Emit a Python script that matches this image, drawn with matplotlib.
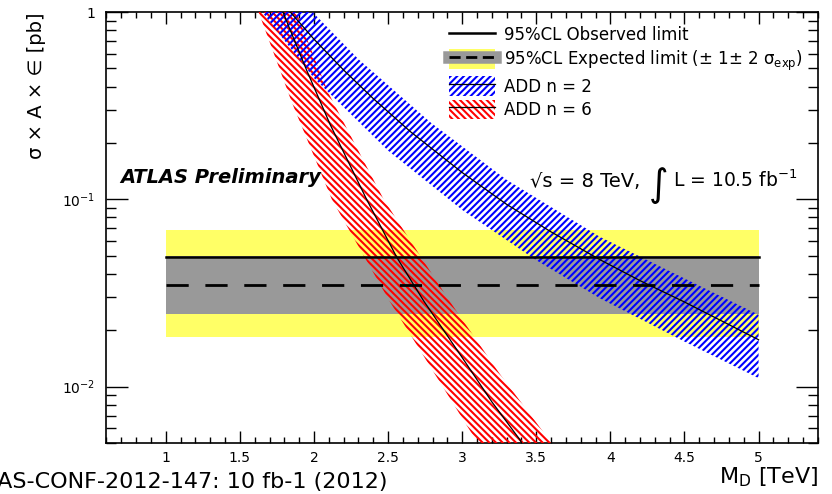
import numpy as np
import matplotlib
matplotlib.use("Agg")
import matplotlib.pyplot as plt
from matplotlib.lines import Line2D
from matplotlib.patches import Patch
from matplotlib.ticker import MultipleLocator, LogLocator, NullFormatter

# limits (pb), flat in M_D
md_lim = [1.0, 5.0]
obs_limit = [0.049, 0.049]
exp_limit = [0.0348, 0.0348]
exp_1s_lo = [0.0244, 0.0244]
exp_1s_hi = [0.050, 0.050]
exp_2s_lo = [0.0184, 0.0184]
exp_2s_hi = [0.0685, 0.0685]

# ADD n = 2 signal
md_n2 = [1.84, 2.0, 2.2, 2.4, 2.65, 2.79, 3.0, 3.30, 3.6, 3.93, 4.2, 4.5, 5.0]
xs_n2 = [1.0, 0.716, 0.49, 0.345, 0.230, 0.188, 0.139, 0.094, 0.067, 0.0476, 0.0368, 0.0283, 0.0178]
md_n2_hi = [1.99, 2.3, 2.79, 3.30, 3.93, 4.5, 5.0]
xs_n2_hi = [1.0, 0.56, 0.256, 0.127, 0.063, 0.0378, 0.0242]
md_n2_lo = [1.65, 2.0, 2.5, 3.0, 3.5, 3.93, 4.5, 5.0]
xs_n2_lo = [1.0, 0.444, 0.182, 0.0878, 0.0473, 0.0296, 0.0174, 0.0111]

# ADD n = 6 signal
md_n6 = [1.79, 1.95, 2.11, 2.355, 2.56, 2.74, 3.0, 3.2, 3.39, 3.42]
xs_n6 = [1.0, 0.49, 0.25, 0.100, 0.0488, 0.0287, 0.0143, 0.0083, 0.0052, 0.0047]
md_n6_hi = [1.88, 2.097, 2.47, 2.91, 3.25, 3.62]
xs_n6_hi = [1.0, 0.37, 0.1, 0.029, 0.0118, 0.0048]
md_n6_lo = [1.626, 1.85, 2.12, 2.504, 3.034, 3.12]
xs_n6_lo = [1.0, 0.33, 0.1, 0.0291, 0.00615, 0.0048]

xticks = [1, 1.5, 2, 2.5, 3, 3.5, 4, 4.5, 5]
xticklabels = ["1", "1.5", "2", "2.5", "3", "3.5", "4", "4.5", "5"]
yticks = [0.01, 0.1, 1]
yticklabels = ["10$^{-2}$", "10$^{-1}$", "1"]

yellow = "#ffff66"
gray = "#999999"
hatch_n2 = "/////"
hatch_n6 = "\\\\\\\\\\"

plt.rcParams["font.family"] = ["DejaVu Sans"]
plt.rcParams["mathtext.default"] = "regular"
plt.rcParams["hatch.linewidth"] = 1.5

fig = plt.figure(figsize=(8.32, 4.94), dpi=100)
ax = fig.add_axes([0.128, 0.1032, 0.855, 0.8725])

# expected bands
ax.fill_between(md_lim, exp_2s_lo, exp_2s_hi, color=yellow, lw=0, zorder=1)
ax.fill_between(md_lim, exp_1s_lo, exp_1s_hi, color=gray, lw=0, zorder=2)

# signal bands
ax.fill(md_n6_lo + md_n6_hi[::-1], xs_n6_lo + xs_n6_hi[::-1],
        facecolor="none", edgecolor="red", hatch=hatch_n6, lw=0, zorder=3)
ax.fill(md_n2_lo + md_n2_hi[::-1], xs_n2_lo + xs_n2_hi[::-1],
        facecolor="none", edgecolor="blue", hatch=hatch_n2, lw=0, zorder=3)
ax.plot(md_n2, xs_n2, color="black", lw=0.9, zorder=5)
ax.plot(md_n6, xs_n6, color="black", lw=0.9, zorder=5)

# limits
ax.plot(md_lim, obs_limit, color="black", lw=1.8, zorder=6)
ax.plot(md_lim, exp_limit, color="black", lw=2, dashes=(8, 6), zorder=6)

ax.set_yscale("log")
ax.set_xlim(0.6, 5.4)
ax.set_ylim(0.005, 1)
ax.set_xticks(xticks)
ax.set_xticklabels(xticklabels)
ax.xaxis.set_minor_locator(MultipleLocator(0.1))
ax.set_yticks(yticks)
ax.set_yticklabels(yticklabels)
ax.yaxis.set_minor_locator(LogLocator(base=10, subs=np.arange(2, 10)))
ax.yaxis.set_minor_formatter(NullFormatter())

ax.tick_params(which="both", direction="in", top=True, right=True, labelsize=10, width=1)
ax.tick_params(axis="x", which="major", length=8.5, pad=6)
ax.tick_params(axis="x", which="minor", length=4.3)
ax.tick_params(axis="y", which="major", length=15.5, pad=8)
ax.tick_params(axis="y", which="minor", length=7.5)
for s in ax.spines.values():
    s.set_linewidth(1.2)

ax.set_ylabel("σ × A × ∈ [pb]", fontsize=14, loc="top")
ax.yaxis.set_label_coords(-0.085, 1.0)
ax.set_xlabel("M$_{D}$ [TeV]", fontsize=16, loc="right")
ax.xaxis.set_label_coords(1.0, -0.053)

ax.text(0.019, 0.603, "ATLAS Preliminary", transform=ax.transAxes,
        fontsize=14, fontweight="bold", fontstyle="italic")
ax.text(0.595, 0.595, "√s = 8 TeV,", transform=ax.transAxes, fontsize=14)
ax.text(0.762, 0.573, "∫", transform=ax.transAxes, fontsize=27)
ax.text(0.797, 0.595, "L = 10.5 fb$^{-1}$", transform=ax.transAxes, fontsize=13.5)

fig.text(0.466, 0.012, "ATLAS-CONF-2012-147: 10 fb-1 (2012)", ha="right",
         va="baseline", fontsize=16)

h_obs = Line2D([], [], color="black", lw=1.8)
h_exp = (Patch(facecolor=yellow, edgecolor="none"),
         Line2D([], [], color=gray, lw=9),
         Line2D([], [], color="black", lw=2, dashes=(4, 2)))
h_n2 = (Patch(facecolor="none", edgecolor="blue", hatch=hatch_n2, lw=0),
        Line2D([], [], color="black", lw=0.9))
h_n6 = (Patch(facecolor="none", edgecolor="red", hatch=hatch_n6, lw=0),
        Line2D([], [], color="black", lw=0.9))
ax.legend([h_obs, h_exp, h_n2, h_n6],
          ["95%CL Observed limit",
           "95%CL Expected limit (± 1± 2 σ$_{exp}$)",
           "ADD n = 2", "ADD n = 6"],
          loc="upper left", bbox_to_anchor=(0.461, 1.005), frameon=False,
          fontsize=12, handlelength=2.75, handleheight=1.45, labelspacing=0.22,
          handletextpad=0.55)

fig.savefig("out.png", dpi=100)
